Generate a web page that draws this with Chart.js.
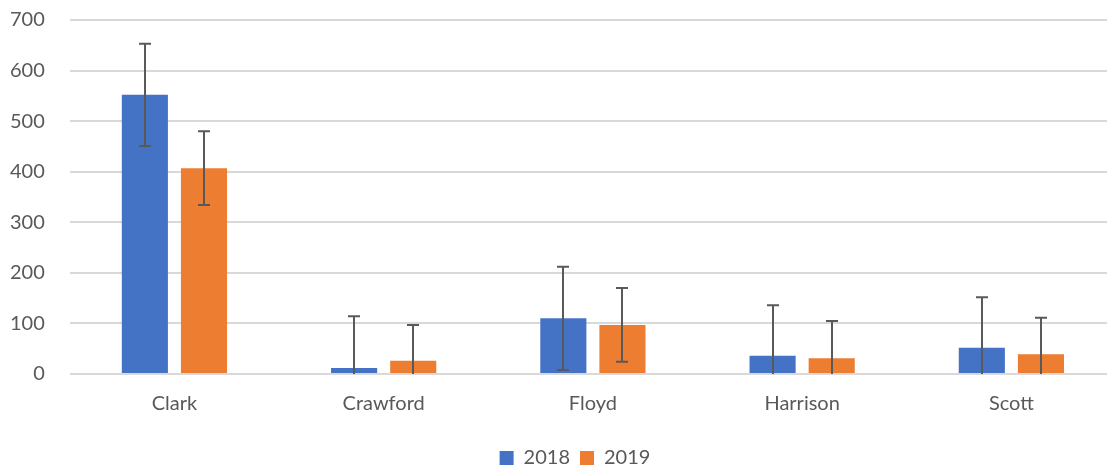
<!DOCTYPE html>
<html>
<head>
<meta charset="utf-8">
<script src="https://cdn.jsdelivr.net/npm/chart.js@4.4.1/dist/chart.umd.min.js"></script>
<style>
    html, body { margin: 0; padding: 0; background: #fff; overflow: hidden; }
    #wrap { width: 1116px; height: 478px; }
</style>
</head>
<body>
<div id="wrap"><canvas id="chart"></canvas></div>
<script>
// categories and series values
const counties = ['Clark', 'Crawford', 'Floyd', 'Harrison', 'Scott'];
const values2018 = [552, 12, 110, 36, 52];
const values2019 = [407, 26, 97, 31, 39];
const errors2018 = [101, 102, 102, 100, 100];
const errors2019 = [73, 71, 73, 74, 72];
const yTicks = [0, 100, 200, 300, 400, 500, 600, 700];

const textColor = '#595959';
const gridColor = '#d9d9d9';
const font = { family: 'Lato, "Open Sans", sans-serif', size: 20 };

// draws symmetric error bars from the dataset's "errors" array
const errorBarPlugin = {
    id: 'errorBars',
    afterDatasetsDraw(chart) {
        const ctx = chart.ctx;
        const yScale = chart.scales.y;
        ctx.save();
        ctx.strokeStyle = '#595959';
        ctx.lineWidth = 2;
        chart.data.datasets.forEach((ds, i) => {
            const meta = chart.getDatasetMeta(i);
            meta.data.forEach((bar, j) => {
                const v = ds.data[j];
                const e = ds.errors[j];
                const lo = Math.max(v - e, yScale.min);
                const yHi = yScale.getPixelForValue(v + e);
                const yLo = yScale.getPixelForValue(lo);
                const x = Math.round(bar.x);
                ctx.beginPath();
                ctx.moveTo(x, yHi);
                ctx.lineTo(x, yLo);
                ctx.moveTo(x - 6, yHi);
                ctx.lineTo(x + 6, yHi);
                if (v - e > yScale.min) {
                    ctx.moveTo(x - 6, yLo);
                    ctx.lineTo(x + 6, yLo);
                }
                ctx.stroke();
            });
        });
        ctx.restore();
    }
};

// the legend sits a little right of the canvas centre in the original
const legendShift = {
    id: 'legendShift',
    afterLayout(chart) {
        if (chart.legend) {
            chart.legend.left += 12;
            chart.legend.right += 12;
        }
    }
};

new Chart(document.getElementById('chart'), {
    type: 'bar',
    data: {
        labels: counties,
        datasets: [
            { label: '2018', data: values2018, errors: errors2018, backgroundColor: '#4472c4' },
            { label: '2019', data: values2019, errors: errors2019, backgroundColor: '#ed7d31' }
        ]
    },
    options: {
        responsive: true,
        maintainAspectRatio: false,
        animation: false,
        categoryPercentage: 0.565,
        barPercentage: 0.78,
        layout: { padding: { top: 20, left: 10, right: 0, bottom: 0 } },
        scales: {
            x: {
                grid: { display: false, drawTicks: false },
                border: { display: false },
                ticks: { color: textColor, font: font, padding: 18 },
                afterFit: (axis) => { axis.height = 64; }
            },
            y: {
                min: 0,
                max: 700,
                afterBuildTicks: (axis) => { axis.ticks = yTicks.map(v => ({ value: v })); },
                grid: { color: gridColor, lineWidth: 2, drawTicks: true, tickLength: 25, tickColor: 'rgba(0,0,0,0)' },
                border: { display: false },
                ticks: { color: textColor, font: font, padding: 0 }
            }
        },
        plugins: {
            legend: {
                position: 'bottom',
                align: 'center',
                labels: { color: textColor, font: font, boxWidth: 14, boxHeight: 14, padding: 10 }
            },
            tooltip: { enabled: false }
        }
    },
    plugins: [errorBarPlugin, legendShift]
});
</script>
</body>
</html>
